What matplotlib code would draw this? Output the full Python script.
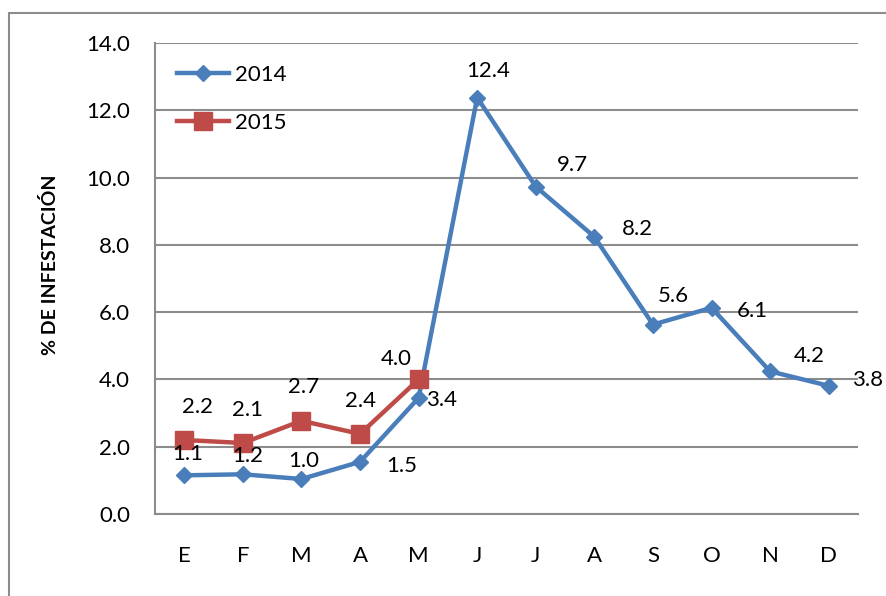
import matplotlib
matplotlib.use("Agg")
import matplotlib.pyplot as plt
from matplotlib.patches import Rectangle

months = ["E", "F", "M", "A", "M", "J", "J", "A", "S", "O", "N", "D"]
vals_2014 = [1.15, 1.18, 1.04, 1.55, 3.45, 12.38, 9.73, 8.24, 5.63, 6.13, 4.24, 3.81]
labels_2014 = ["1.1", "1.2", "1.0", "1.5", "3.4", "12.4", "9.7", "8.2", "5.6", "6.1", "4.2", "3.8"]
vals_2015 = [2.2, 2.11, 2.77, 2.38, 4.0]
labels_2015 = ["2.2", "2.1", "2.7", "2.4", "4.0"]
yticks = [0, 2, 4, 6, 8, 10, 12, 14]

# label offsets in pixels (dx, dy up)
off_2014 = [(3, 21), (5, 18), (2, 18), (42, -4), (23, -2), (11, 27), (37, 22), (43, 8), (20, 29), (41, -3), (39, 15), (39, 6)]
off_2015 = [(13, 33), (5, 33), (2, 34), (0, 33), (-22, 20)]

plt.rcParams['font.family'] = ['Lato', 'DejaVu Sans']
blue = "#4A7EBB"
red = "#BE4B48"
grid = "#8C8C8C"
fs = 16

fig = plt.figure(figsize=(8.86, 5.96), dpi=100)
ax = fig.add_axes([155/886, (596-514)/596, (858-155)/886, (514-43)/596])

x = list(range(len(months)))
ax.plot(x, vals_2014, color=blue, lw=3.2, marker='D', ms=8.5, label="2014", zorder=3)
ax.plot(x[:len(vals_2015)], vals_2015, color=red, lw=3.2, marker='s', ms=13, label="2015", zorder=4)

pt = 0.72
for i, (v, t) in enumerate(zip(vals_2014, labels_2014)):
    dx, dy = off_2014[i]
    ax.annotate(t, (i, v), xytext=(dx*pt, dy*pt), textcoords='offset points',
                ha='center', va='center', fontsize=fs, color='black', zorder=6)
for i, (v, t) in enumerate(zip(vals_2015, labels_2015)):
    dx, dy = off_2015[i]
    ax.annotate(t, (i, v), xytext=(dx*pt, dy*pt), textcoords='offset points',
                ha='center', va='center', fontsize=fs, color='black', zorder=6)

ax.set_xlim(-0.5, 11.5)
ax.set_ylim(0, 14)
ax.set_yticks(yticks)
ax.set_yticklabels([f"{v:.1f}" for v in yticks], fontsize=fs)
ax.set_xticks(x)
ax.set_xticklabels(months, fontsize=fs)
ax.tick_params(axis='x', length=0, pad=23)
ax.tick_params(axis='y', length=0, pad=18)
ax.yaxis.grid(True, color=grid, lw=1.5)
ax.set_axisbelow(True)
for s in ['top', 'right']:
    ax.spines[s].set_visible(False)
for s in ['left', 'bottom']:
    ax.spines[s].set_color(grid)
    ax.spines[s].set_linewidth(1.5)

ax.set_ylabel("% DE INFESTACIÓN", fontsize=14, fontweight='bold', labelpad=0)
ax.yaxis.set_label_coords(-(155-59)/703, 0.53)

leg = ax.legend(loc='upper left', bbox_to_anchor=(0.0, 1.0), frameon=False,
                fontsize=fs, handlelength=2.35, labelspacing=1.25, handletextpad=0.25,
                borderaxespad=0.6)

fig.patches.append(Rectangle((9/886, -0.1), 1.2, (596-13)/596 + 0.1, transform=fig.transFigure,
                             fill=False, edgecolor="#8C8C8C", lw=1.5))

fig.savefig("out.png", dpi=100)
